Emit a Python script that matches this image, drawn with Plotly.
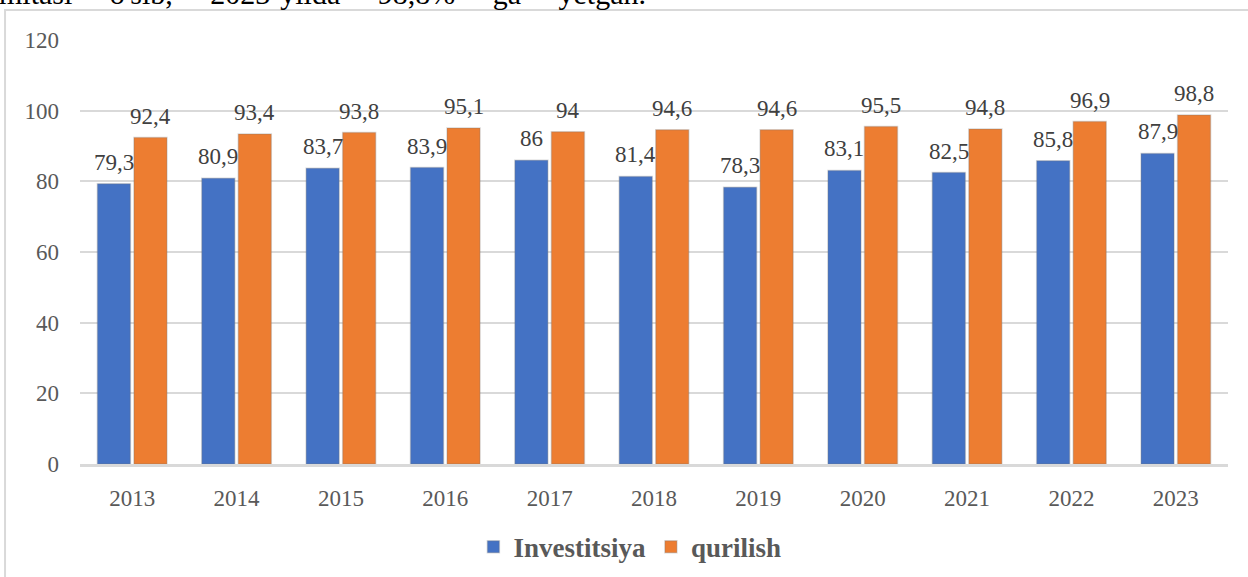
import plotly.graph_objects as go

years = ["2013", "2014", "2015", "2016", "2017", "2018", "2019", "2020", "2021", "2022", "2023"]
investitsiya = [79.3, 80.9, 83.7, 83.9, 86, 81.4, 78.3, 83.1, 82.5, 85.8, 87.9]
qurilish = [92.4, 93.4, 93.8, 95.1, 94, 94.6, 94.6, 95.5, 94.8, 96.9, 98.8]
series_names = ["Investitsiya", "qurilish"]
y_ticks = [0, 20, 40, 60, 80, 100, 120]
top_words = ["mitasi", "o'sib,", "2023-yilda", "98,8%", "ga", "yetgan."]


def fmt(v):
    return ("%g" % v).replace(".", ",")


SERIF = "Liberation Serif, Times New Roman, serif"
colors = ["#4472C4", "#ED7D31"]
offsets = [-18.25, 18.25]

fig = go.Figure()
for name, vals, color in [(series_names[0], investitsiya, colors[0]),
                          (series_names[1], qurilish, colors[1])]:
    fig.add_trace(go.Bar(
        x=years, y=vals, name=name,
        marker=dict(color=color, line=dict(width=1.5, color="rgba(120,120,120,0.28)")),
        cliponaxis=False, hoverinfo="skip",
    ))

# data labels (x given as category index)
for vals, dx in [(investitsiya, offsets[0]), (qurilish, offsets[1])]:
    for i, v in enumerate(vals):
        fig.add_annotation(x=i, y=v, text=fmt(v), xref="x", yref="y",
                           xshift=dx, yshift=7, yanchor="bottom", showarrow=False,
                           font=dict(family=SERIF, size=23, color="#404040"))

fig.update_layout(
    width=1248, height=577,
    margin=dict(l=80, r=20, t=40, b=113, autoexpand=False),
    paper_bgcolor="white", plot_bgcolor="white",
    barmode="group", bargap=0.3, bargroupgap=0.096,
    showlegend=True,
    legend=dict(orientation="h", x=0.479, xanchor="center", y=-0.196, yanchor="middle",
                font=dict(family=SERIF, size=27, color="#595959", weight="bold"),
                itemwidth=30, tracegroupgap=0),
    font=dict(family=SERIF),
)
fig.update_xaxes(
    type="category", range=[-0.5, len(years) - 0.5],
    automargin=False,
    showgrid=False, showline=True, linecolor="#D9D9D9", linewidth=2.5,
    ticks="", tickfont=dict(family=SERIF, size=23, color="#595959"),
    ticklabelstandoff=12,
)
fig.update_yaxes(
    automargin=False,
    range=[0, 120], tickvals=y_ticks, showgrid=True, gridcolor="#D9D9D9", gridwidth=1.5,
    zeroline=False, showline=False, ticks="",
    tickfont=dict(family=SERIF, size=23, color="#595959"),
    ticklabelstandoff=20,
)
# chart frame
fig.add_shape(type="rect", xref="paper", yref="paper",
              x0=-0.0653, x1=1.2, y0=-0.5, y1=1.0708,
              line=dict(color="#D9D9D9", width=2), fillcolor="rgba(0,0,0,0)", layer="below")
# clipped document text above the chart (justified line)
gap = "\u00a0" * 5
fig.add_annotation(text=gap.join(top_words), xref="paper", yref="paper", x=-0.0725, y=1.066,
                   xanchor="left", yanchor="bottom", showarrow=False,
                   font=dict(family=SERIF, size=30, color="black"))

fig.write_html("out.html", config={"displayModeBar": False},
               post_script="document.body.style.margin='0px';")
